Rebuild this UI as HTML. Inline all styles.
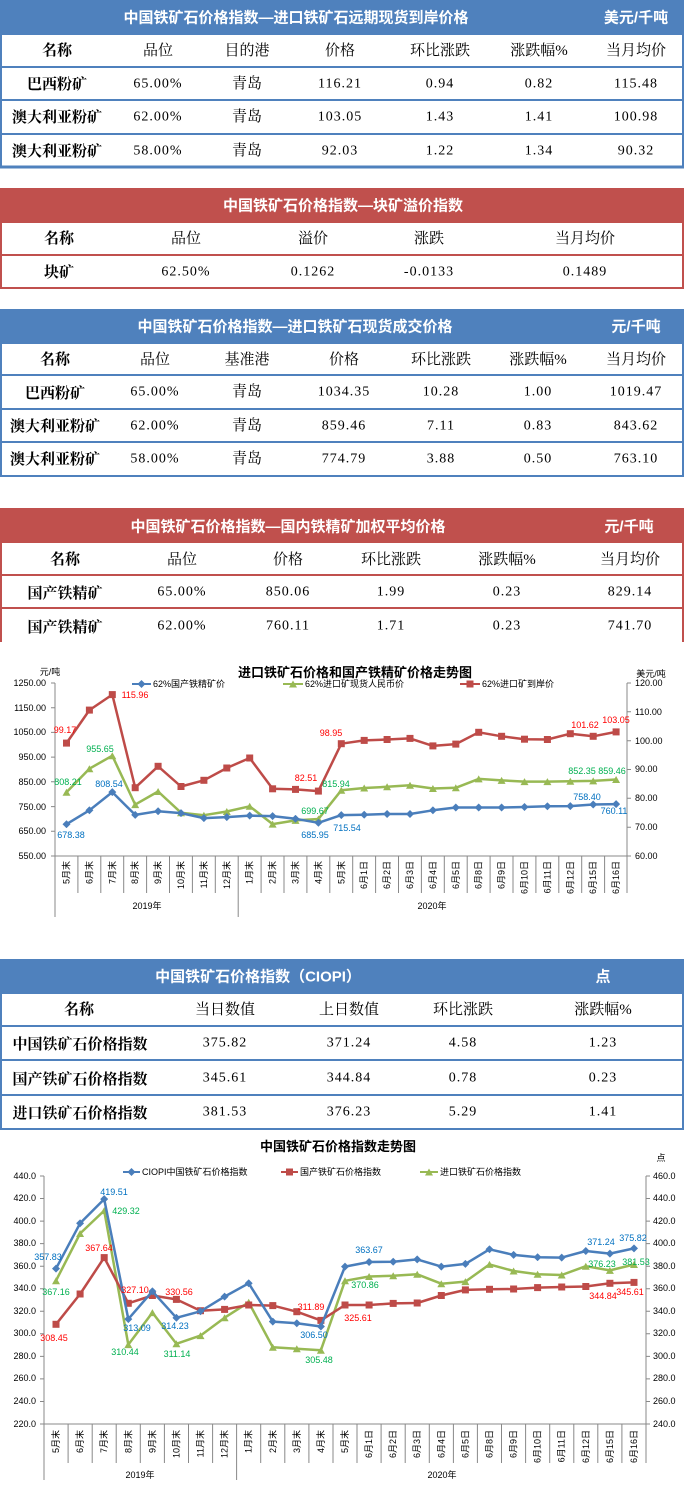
<!DOCTYPE html>
<html><head><meta charset="utf-8"><style>
html,body{margin:0;padding:0;background:#fff;width:684px;height:1487px;overflow:hidden}
svg{display:block}
.tt{font-family:"Liberation Sans","Noto Sans CJK SC",sans-serif;font-weight:bold;font-size:15px;fill:#fff}
.h{font-family:"Liberation Serif","Noto Serif CJK SC",serif;font-size:15px;fill:#000}
.hb{font-family:"Liberation Serif","Noto Serif CJK SC",serif;font-size:15px;font-weight:bold;fill:#000}
.n{font-family:"Liberation Serif","Noto Serif CJK SC",serif;font-size:14px;fill:#000;letter-spacing:1px}
.ax{font-family:"Liberation Sans","Noto Sans CJK SC",sans-serif;font-size:9px;fill:#000}
.ct{font-family:"Liberation Sans","Noto Sans CJK SC",sans-serif;font-size:13px;font-weight:bold;fill:#000}
.lr{font-family:"Liberation Sans",sans-serif;font-size:9px;fill:#ff0000;text-anchor:middle}
.lg{font-family:"Liberation Sans",sans-serif;font-size:9px;fill:#00b050;text-anchor:middle}
.lb{font-family:"Liberation Sans",sans-serif;font-size:9px;fill:#0070c0;text-anchor:middle}
</style></head><body>
<svg width="684" height="1487" viewBox="0 0 684 1487" xmlns="http://www.w3.org/2000/svg">
<defs>
<marker id="md" markerUnits="userSpaceOnUse" markerWidth="8" markerHeight="8" refX="4" refY="4"><path d="M4 0L8 4L4 8L0 4Z" fill="#4a7ebb"/></marker>
<marker id="ms" markerUnits="userSpaceOnUse" markerWidth="8" markerHeight="8" refX="4" refY="4"><rect x="0.5" y="0.5" width="7" height="7" fill="#be4b48"/></marker>
<marker id="mt" markerUnits="userSpaceOnUse" markerWidth="8" markerHeight="8" refX="4" refY="4"><path d="M4 0.5L8 7.5L0 7.5Z" fill="#98b954"/></marker>
</defs>
<g text-anchor="middle" dominant-baseline="central">
<!-- Table 1 -->
<rect x="0" y="0" width="684" height="34" fill="#4f81bd"/>
<text class="tt" x="296" y="18">中国铁矿石价格指数—进口铁矿石远期现货到岸价格</text>
<text class="tt" x="636" y="18">美元/千吨</text>
<rect x="1" y="34" width="682" height="133" fill="none" stroke="#4f81bd" stroke-width="2"/>
<line x1="0" y1="67" x2="684" y2="67" stroke="#4f81bd" stroke-width="2"/>
<line x1="0" y1="100" x2="684" y2="100" stroke="#4f81bd" stroke-width="2"/>
<line x1="0" y1="134" x2="684" y2="134" stroke="#4f81bd" stroke-width="2"/>
<line x1="0" y1="167" x2="684" y2="167" stroke="#4f81bd" stroke-width="3"/>
<text class="hb" x="57" y="51">名称</text><text class="h" x="158" y="51">品位</text><text class="h" x="247" y="51">目的港</text><text class="h" x="340" y="51">价格</text><text class="h" x="440" y="51">环比涨跌</text><text class="h" x="539" y="51">涨跌幅%</text><text class="h" x="636" y="51">当月均价</text>
<text class="hb" x="57" y="85">巴西粉矿</text><text class="n" x="158" y="84">65.00%</text><text class="h" x="247" y="84">青岛</text><text class="n" x="340" y="84">116.21</text><text class="n" x="440" y="84">0.94</text><text class="n" x="539" y="84">0.82</text><text class="n" x="636" y="84">115.48</text>
<text class="hb" x="57" y="118">澳大利亚粉矿</text><text class="n" x="158" y="117">62.00%</text><text class="h" x="247" y="117">青岛</text><text class="n" x="340" y="117">103.05</text><text class="n" x="440" y="117">1.43</text><text class="n" x="539" y="117">1.41</text><text class="n" x="636" y="117">100.98</text>
<text class="hb" x="57" y="152">澳大利亚粉矿</text><text class="n" x="158" y="151">58.00%</text><text class="h" x="247" y="151">青岛</text><text class="n" x="340" y="151">92.03</text><text class="n" x="440" y="151">1.22</text><text class="n" x="539" y="151">1.34</text><text class="n" x="636" y="151">90.32</text>
<!-- Table 2 -->
<rect x="0" y="188" width="684" height="34" fill="#c0504d"/>
<text class="tt" x="343" y="206">中国铁矿石价格指数—块矿溢价指数</text>
<rect x="1" y="222" width="682" height="66" fill="none" stroke="#c0504d" stroke-width="2"/>
<line x1="0" y1="255" x2="684" y2="255" stroke="#c0504d" stroke-width="2"/>
<text class="hb" x="59" y="239">名称</text><text class="h" x="186" y="239">品位</text><text class="h" x="313" y="239">溢价</text><text class="h" x="429" y="239">涨跌</text><text class="h" x="585" y="239">当月均价</text>
<text class="hb" x="59" y="273">块矿</text><text class="n" x="186" y="272">62.50%</text><text class="n" x="313" y="272">0.1262</text><text class="n" x="429" y="272">-0.0133</text><text class="n" x="585" y="272">0.1489</text>
<!-- Table 3 -->
<rect x="0" y="309" width="684" height="34" fill="#4f81bd"/>
<text class="tt" x="295" y="327">中国铁矿石价格指数—进口铁矿石现货成交价格</text>
<text class="tt" x="636" y="327">元/千吨</text>
<rect x="1" y="343" width="682" height="133" fill="none" stroke="#4f81bd" stroke-width="2"/>
<line x1="0" y1="375" x2="684" y2="375" stroke="#4f81bd" stroke-width="2"/>
<line x1="0" y1="409" x2="684" y2="409" stroke="#4f81bd" stroke-width="2"/>
<line x1="0" y1="442" x2="684" y2="442" stroke="#4f81bd" stroke-width="2"/>
<text class="hb" x="55" y="360">名称</text><text class="h" x="155" y="360">品位</text><text class="h" x="247" y="360">基准港</text><text class="h" x="344" y="360">价格</text><text class="h" x="441" y="360">环比涨跌</text><text class="h" x="538" y="360">涨跌幅%</text><text class="h" x="636" y="360">当月均价</text>
<text class="hb" x="55" y="394">巴西粉矿</text><text class="n" x="155" y="392">65.00%</text><text class="h" x="247" y="392">青岛</text><text class="n" x="344" y="392">1034.35</text><text class="n" x="441" y="392">10.28</text><text class="n" x="538" y="392">1.00</text><text class="n" x="636" y="392">1019.47</text>
<text class="hb" x="55" y="427">澳大利亚粉矿</text><text class="n" x="155" y="426">62.00%</text><text class="h" x="247" y="426">青岛</text><text class="n" x="344" y="426">859.46</text><text class="n" x="441" y="426">7.11</text><text class="n" x="538" y="426">0.83</text><text class="n" x="636" y="426">843.62</text>
<text class="hb" x="55" y="460">澳大利亚粉矿</text><text class="n" x="155" y="459">58.00%</text><text class="h" x="247" y="459">青岛</text><text class="n" x="344" y="459">774.79</text><text class="n" x="441" y="459">3.88</text><text class="n" x="538" y="459">0.50</text><text class="n" x="636" y="459">763.10</text>
<!-- Table 4 -->
<rect x="0" y="508" width="684" height="35" fill="#c0504d"/>
<text class="tt" x="288" y="527">中国铁矿石价格指数—国内铁精矿加权平均价格</text>
<text class="tt" x="629" y="527">元/千吨</text>
<line x1="1" y1="543" x2="1" y2="642" stroke="#c0504d" stroke-width="2"/>
<line x1="683" y1="543" x2="683" y2="642" stroke="#c0504d" stroke-width="2"/>
<line x1="0" y1="575" x2="684" y2="575" stroke="#c0504d" stroke-width="2"/>
<line x1="0" y1="608" x2="684" y2="608" stroke="#c0504d" stroke-width="2"/>
<text class="hb" x="65" y="560">名称</text><text class="h" x="182" y="560">品位</text><text class="h" x="288" y="560">价格</text><text class="h" x="391" y="560">环比涨跌</text><text class="h" x="507" y="560">涨跌幅%</text><text class="h" x="630" y="560">当月均价</text>
<text class="hb" x="65" y="594">国产铁精矿</text><text class="n" x="182" y="592">65.00%</text><text class="n" x="288" y="592">850.06</text><text class="n" x="391" y="592">1.99</text><text class="n" x="507" y="592">0.23</text><text class="n" x="630" y="592">829.14</text>
<text class="hb" x="65" y="628">国产铁精矿</text><text class="n" x="182" y="626">62.00%</text><text class="n" x="288" y="626">760.11</text><text class="n" x="391" y="626">1.71</text><text class="n" x="507" y="626">0.23</text><text class="n" x="630" y="626">741.70</text>
<!-- Table 5 -->
<rect x="0" y="959" width="684" height="34" fill="#4f81bd"/>
<text class="tt" x="258" y="977">中国铁矿石价格指数（CIOPI）</text>
<text class="tt" x="603" y="977">点</text>
<rect x="1" y="993" width="682" height="136" fill="none" stroke="#4f81bd" stroke-width="2"/>
<line x1="0" y1="1026" x2="684" y2="1026" stroke="#4f81bd" stroke-width="2"/>
<line x1="0" y1="1060" x2="684" y2="1060" stroke="#4f81bd" stroke-width="2"/>
<line x1="0" y1="1095" x2="684" y2="1095" stroke="#4f81bd" stroke-width="2"/>
<text class="hb" x="79" y="1010">名称</text><text class="h" x="225" y="1010">当日数值</text><text class="h" x="349" y="1010">上日数值</text><text class="h" x="463" y="1010">环比涨跌</text><text class="h" x="603" y="1010">涨跌幅%</text>
<text class="hb" x="80" y="1045">中国铁矿石价格指数</text><text class="n" x="225" y="1043">375.82</text><text class="n" x="349" y="1043">371.24</text><text class="n" x="463" y="1043">4.58</text><text class="n" x="603" y="1043">1.23</text>
<text class="hb" x="80" y="1080">国产铁矿石价格指数</text><text class="n" x="225" y="1078">345.61</text><text class="n" x="349" y="1078">344.84</text><text class="n" x="463" y="1078">0.78</text><text class="n" x="603" y="1078">0.23</text>
<text class="hb" x="80" y="1114">进口铁矿石价格指数</text><text class="n" x="225" y="1112">381.53</text><text class="n" x="349" y="1112">376.23</text><text class="n" x="463" y="1112">5.29</text><text class="n" x="603" y="1112">1.41</text>
</g>

<!-- Chart 1 -->
<g>
<text class="ct" x="355" y="677" text-anchor="middle">进口铁矿石价格和国产铁精矿价格走势图</text>
<text class="ax" x="50" y="675" text-anchor="middle" font-size="10">元/吨</text>
<text class="ax" x="651" y="677" text-anchor="middle" font-size="10">美元/吨</text>
<path d="M132 684H141.5H151" stroke="#4a7ebb" stroke-width="2" fill="none" marker-mid="url(#md)"/>
<text class="ax" x="153" y="687">62%国产铁精矿价</text>
<path d="M283 684H293H303" stroke="#98b954" stroke-width="2" fill="none" marker-mid="url(#mt)"/>
<text class="ax" x="305" y="687">62%进口矿现货人民币价</text>
<path d="M460 684H470H480" stroke="#be4b48" stroke-width="2" fill="none" marker-mid="url(#ms)"/>
<text class="ax" x="482" y="687">62%进口矿到岸价</text>
<g stroke="#888" stroke-width="1" fill="none">
<line x1="55" y1="683" x2="55" y2="917"/>
<line x1="627" y1="683" x2="627" y2="856"/>
<line x1="55" y1="856" x2="627" y2="856"/>
<path d="M51 683H55M51 707.7H55M51 732.4H55M51 757.1H55M51 781.8H55M51 806.6H55M51 831.3H55M51 856H55"/>
<path d="M627 683H631M627 711.8H631M627 740.7H631M627 769.5H631M627 798.3H631M627 827.2H631M627 856H631"/>
<path d="M77.9 856V893M100.8 856V893M123.7 856V893M146.6 856V893M169.5 856V893M192.4 856V893M215.3 856V893M261.1 856V893M284 856V893M306.9 856V893M329.8 856V893M352.7 856V893M375.6 856V893M398.5 856V893M421.4 856V893M444.3 856V893M467.2 856V893M490.1 856V893M513 856V893M535.9 856V893M558.8 856V893M581.7 856V893M604.6 856V893M627 856V893"/>
<line x1="238.2" y1="856" x2="238.2" y2="917"/>
</g>
<g class="ax" text-anchor="end">
<text x="46" y="686">1250.00</text><text x="46" y="711">1150.00</text><text x="46" y="735">1050.00</text><text x="46" y="760">950.00</text><text x="46" y="785">850.00</text><text x="46" y="810">750.00</text><text x="46" y="834">650.00</text><text x="46" y="859">550.00</text>
</g>
<g class="ax">
<text x="635" y="686">120.00</text><text x="635" y="715">110.00</text><text x="635" y="744">100.00</text><text x="635" y="772">90.00</text><text x="635" y="801">80.00</text><text x="635" y="830">70.00</text><text x="635" y="859">60.00</text>
</g>
<g class="ax" text-anchor="end">
<text transform="translate(69.5,861) rotate(-90)">5月末</text><text transform="translate(92.4,861) rotate(-90)">6月末</text><text transform="translate(115.3,861) rotate(-90)">7月末</text><text transform="translate(138.2,861) rotate(-90)">8月末</text><text transform="translate(161.1,861) rotate(-90)">9月末</text><text transform="translate(184,861) rotate(-90)">10月末</text><text transform="translate(206.9,861) rotate(-90)">11月末</text><text transform="translate(229.8,861) rotate(-90)">12月末</text><text transform="translate(252.7,861) rotate(-90)">1月末</text><text transform="translate(275.6,861) rotate(-90)">2月末</text><text transform="translate(298.5,861) rotate(-90)">3月末</text><text transform="translate(321.4,861) rotate(-90)">4月末</text><text transform="translate(344.3,861) rotate(-90)">5月末</text><text transform="translate(367.2,861) rotate(-90)">6月1日</text><text transform="translate(390.1,861) rotate(-90)">6月2日</text><text transform="translate(413,861) rotate(-90)">6月3日</text><text transform="translate(435.9,861) rotate(-90)">6月4日</text><text transform="translate(458.8,861) rotate(-90)">6月5日</text><text transform="translate(481.7,861) rotate(-90)">6月8日</text><text transform="translate(504.6,861) rotate(-90)">6月9日</text><text transform="translate(527.5,861) rotate(-90)">6月10日</text><text transform="translate(550.4,861) rotate(-90)">6月11日</text><text transform="translate(573.3,861) rotate(-90)">6月12日</text><text transform="translate(596.2,861) rotate(-90)">6月15日</text><text transform="translate(619.1,861) rotate(-90)">6月16日</text>
</g>
<text class="ax" x="147" y="909" text-anchor="middle">2019年</text>
<text class="ax" x="432" y="909" text-anchor="middle">2020年</text>
<g fill="none" stroke-width="2.5" stroke-linejoin="round">
<polyline stroke="#be4b48" marker-start="url(#ms)" marker-mid="url(#ms)" marker-end="url(#ms)" points="66.5,743.1 89.4,710.1 112.3,694.6 135.2,787.7 158.1,766.3 181,786.5 203.9,780.3 226.8,768 249.7,758 272.6,788.8 295.5,789.4 318.4,791.1 341.3,743.7 364.2,740.4 387.1,739.5 410,738.4 432.9,745.9 455.8,744.1 478.7,732.3 501.6,736.3 524.5,739.2 547.4,739.5 570.3,733.7 593.2,736.3 616.1,731.9"/>
<polyline stroke="#98b954" marker-start="url(#mt)" marker-mid="url(#mt)" marker-end="url(#mt)" points="66.5,792.2 89.4,768.7 112.3,755.7 135.2,804.6 158.1,791.5 181,812.7 203.9,815.2 226.8,811.5 249.7,806.3 272.6,824.1 295.5,820.4 318.4,819 341.3,790.3 364.2,788 387.1,786.8 410,785.3 432.9,788.5 455.8,787.8 478.7,778.9 501.6,780.4 524.5,781.6 547.4,781.6 570.3,781.3 593.2,780.9 616.1,779.5"/>
<polyline stroke="#4a7ebb" marker-start="url(#md)" marker-mid="url(#md)" marker-end="url(#md)" points="66.5,824.2 89.4,810.3 112.3,792.1 135.2,814.9 158.1,811.2 181,813.1 203.9,818.1 226.8,817.1 249.7,815.6 272.6,816.1 295.5,818.8 318.4,822.8 341.3,815.1 364.2,814.7 387.1,814 410,814 432.9,810.3 455.8,807.5 478.7,807.5 501.6,807.5 524.5,807 547.4,806.3 570.3,806.1 593.2,804.5 616.1,804.1"/>
</g>
<text class="lr" x="65" y="733">99.17</text><text class="lr" x="135" y="698">115.96</text><text class="lr" x="331" y="736">98.95</text><text class="lr" x="306" y="781">82.51</text><text class="lr" x="585" y="728">101.62</text><text class="lr" x="616" y="723">103.05</text>
<text class="lg" x="68" y="785">808.21</text><text class="lg" x="100" y="752">955.65</text><text class="lg" x="315" y="814">699.67</text><text class="lg" x="336" y="787">815.94</text><text class="lg" x="582" y="774">852.35</text><text class="lg" x="612" y="774">859.46</text>
<text class="lb" x="71" y="838">678.38</text><text class="lb" x="109" y="787">808.54</text><text class="lb" x="315" y="838">685.95</text><text class="lb" x="347" y="831">715.54</text><text class="lb" x="587" y="800">758.40</text><text class="lb" x="614" y="814">760.11</text>
</g>

<!-- Chart 2 -->
<g>
<text class="ct" x="338" y="1151" text-anchor="middle">中国铁矿石价格指数走势图</text>
<text class="ax" x="661" y="1161" text-anchor="middle" font-size="11">点</text>
<path d="M123 1172H131.5H140" stroke="#4a7ebb" stroke-width="2" fill="none" marker-mid="url(#md)"/>
<text class="ax" x="142" y="1175">CIOPI中国铁矿石价格指数</text>
<path d="M281 1172H289.5H298" stroke="#be4b48" stroke-width="2" fill="none" marker-mid="url(#ms)"/>
<text class="ax" x="300" y="1175">国产铁矿石价格指数</text>
<path d="M420 1172H429H438" stroke="#98b954" stroke-width="2" fill="none" marker-mid="url(#mt)"/>
<text class="ax" x="440" y="1175">进口铁矿石价格指数</text>
<g stroke="#888" stroke-width="1" fill="none">
<line x1="44" y1="1176" x2="44" y2="1480"/>
<line x1="646" y1="1176" x2="646" y2="1463"/>
<line x1="44" y1="1424" x2="646" y2="1424"/>
<path d="M40 1176H44M40 1198.5H44M40 1221.1H44M40 1243.6H44M40 1266.2H44M40 1288.7H44M40 1311.3H44M40 1333.8H44M40 1356.4H44M40 1378.9H44M40 1401.5H44M40 1424H44"/>
<path d="M646 1176H650M646 1198.5H650M646 1221.1H650M646 1243.6H650M646 1266.2H650M646 1288.7H650M646 1311.3H650M646 1333.8H650M646 1356.4H650M646 1378.9H650M646 1401.5H650M646 1424H650"/>
<path d="M68.1 1424V1463M92.2 1424V1463M116.2 1424V1463M140.3 1424V1463M164.4 1424V1463M188.5 1424V1463M212.6 1424V1463M260.7 1424V1463M284.8 1424V1463M308.9 1424V1463M333 1424V1463M357 1424V1463M381.1 1424V1463M405.2 1424V1463M429.3 1424V1463M453.4 1424V1463M477.4 1424V1463M501.5 1424V1463M525.6 1424V1463M549.7 1424V1463M573.8 1424V1463M597.8 1424V1463M621.9 1424V1463"/>
<line x1="236.6" y1="1424" x2="236.6" y2="1480"/>
</g>
<g class="ax" text-anchor="end">
<text x="36" y="1179">440.0</text><text x="36" y="1201">420.0</text><text x="36" y="1224">400.0</text><text x="36" y="1246">380.0</text><text x="36" y="1269">360.0</text><text x="36" y="1291">340.0</text><text x="36" y="1314">320.0</text><text x="36" y="1336">300.0</text><text x="36" y="1359">280.0</text><text x="36" y="1381">260.0</text><text x="36" y="1404">240.0</text><text x="36" y="1427">220.0</text>
</g>
<g class="ax">
<text x="653" y="1179">460.0</text><text x="653" y="1201">440.0</text><text x="653" y="1224">420.0</text><text x="653" y="1246">400.0</text><text x="653" y="1269">380.0</text><text x="653" y="1291">360.0</text><text x="653" y="1314">340.0</text><text x="653" y="1336">320.0</text><text x="653" y="1359">300.0</text><text x="653" y="1381">280.0</text><text x="653" y="1404">260.0</text><text x="653" y="1427">240.0</text>
</g>
<g class="ax" text-anchor="end">
<text transform="translate(59,1430) rotate(-90)">5月末</text><text transform="translate(83.1,1430) rotate(-90)">6月末</text><text transform="translate(107.2,1430) rotate(-90)">7月末</text><text transform="translate(131.3,1430) rotate(-90)">8月末</text><text transform="translate(155.4,1430) rotate(-90)">9月末</text><text transform="translate(179.4,1430) rotate(-90)">10月末</text><text transform="translate(203.5,1430) rotate(-90)">11月末</text><text transform="translate(227.6,1430) rotate(-90)">12月末</text><text transform="translate(251.7,1430) rotate(-90)">1月末</text><text transform="translate(275.8,1430) rotate(-90)">2月末</text><text transform="translate(299.8,1430) rotate(-90)">3月末</text><text transform="translate(323.9,1430) rotate(-90)">4月末</text><text transform="translate(348,1430) rotate(-90)">5月末</text><text transform="translate(372.1,1430) rotate(-90)">6月1日</text><text transform="translate(396.2,1430) rotate(-90)">6月2日</text><text transform="translate(420.2,1430) rotate(-90)">6月3日</text><text transform="translate(444.3,1430) rotate(-90)">6月4日</text><text transform="translate(468.4,1430) rotate(-90)">6月5日</text><text transform="translate(492.5,1430) rotate(-90)">6月8日</text><text transform="translate(516.6,1430) rotate(-90)">6月9日</text><text transform="translate(540.6,1430) rotate(-90)">6月10日</text><text transform="translate(564.7,1430) rotate(-90)">6月11日</text><text transform="translate(588.8,1430) rotate(-90)">6月12日</text><text transform="translate(612.9,1430) rotate(-90)">6月15日</text><text transform="translate(637,1430) rotate(-90)">6月16日</text>
</g>
<text class="ax" x="140" y="1478" text-anchor="middle">2019年</text>
<text class="ax" x="442" y="1478" text-anchor="middle">2020年</text>
<g fill="none" stroke-width="2.5" stroke-linejoin="round">
<polyline stroke="#98b954" marker-start="url(#mt)" marker-mid="url(#mt)" marker-end="url(#mt)" points="56,1280.7 80.1,1233.5 104.2,1210.6 128.3,1344.6 152.4,1312.6 176.4,1343.8 200.5,1335.6 224.6,1317.7 248.7,1302.3 272.8,1347.3 296.8,1348.7 320.9,1350.2 345,1280.8 369.1,1276.5 393.2,1275.7 417.2,1274.3 441.3,1283.7 465.4,1281.6 489.5,1264.4 513.6,1271 537.6,1274.3 561.7,1275 585.8,1266.2 609.9,1270.4 634,1264.5"/>
<polyline stroke="#be4b48" marker-start="url(#ms)" marker-mid="url(#ms)" marker-end="url(#ms)" points="56,1324.3 80.1,1294 104.2,1257.6 128.3,1303.3 152.4,1295.5 176.4,1299.4 200.5,1310.7 224.6,1309.4 248.7,1305 272.8,1305.6 296.8,1311.7 320.9,1320.4 345,1305 369.1,1305 393.2,1303.4 417.2,1303 441.3,1295.5 465.4,1289.9 489.5,1289.3 513.6,1289 537.6,1287.6 561.7,1287 585.8,1286.5 609.9,1283.3 634,1282.4"/>
<polyline stroke="#4a7ebb" marker-start="url(#md)" marker-mid="url(#md)" marker-end="url(#md)" points="56,1268.6 80.1,1223.3 104.2,1199.1 128.3,1319.1 152.4,1291.3 176.4,1317.8 200.5,1311.3 224.6,1296.6 248.7,1283.3 272.8,1321.6 296.8,1323.3 320.9,1326.5 345,1266.6 369.1,1262 393.2,1261.7 417.2,1259.4 441.3,1266.6 465.4,1263.9 489.5,1249.3 513.6,1254.9 537.6,1257.2 561.7,1257.6 585.8,1251 609.9,1253.6 634,1248.4"/>
</g>
<text class="lb" x="48" y="1260">357.83</text><text class="lb" x="114" y="1195">419.51</text><text class="lb" x="137" y="1331">313.09</text><text class="lb" x="175" y="1329">314.23</text><text class="lb" x="314" y="1338">306.50</text><text class="lb" x="369" y="1253">363.67</text><text class="lb" x="601" y="1245">371.24</text><text class="lb" x="633" y="1241">375.82</text>
<text class="lr" x="54" y="1341">308.45</text><text class="lr" x="99" y="1251">367.64</text><text class="lr" x="135" y="1293">327.10</text><text class="lr" x="179" y="1295">330.56</text><text class="lr" x="311" y="1310">311.89</text><text class="lr" x="358" y="1321">325.61</text><text class="lr" x="603" y="1299">344.84</text><text class="lr" x="630" y="1295">345.61</text>
<text class="lg" x="56" y="1295">367.16</text><text class="lg" x="126" y="1214">429.32</text><text class="lg" x="125" y="1355">310.44</text><text class="lg" x="177" y="1357">311.14</text><text class="lg" x="319" y="1363">305.48</text><text class="lg" x="365" y="1288">370.86</text><text class="lg" x="602" y="1267">376.23</text><text class="lg" x="636" y="1265">381.53</text>
</g>
</svg>
</body></html>
